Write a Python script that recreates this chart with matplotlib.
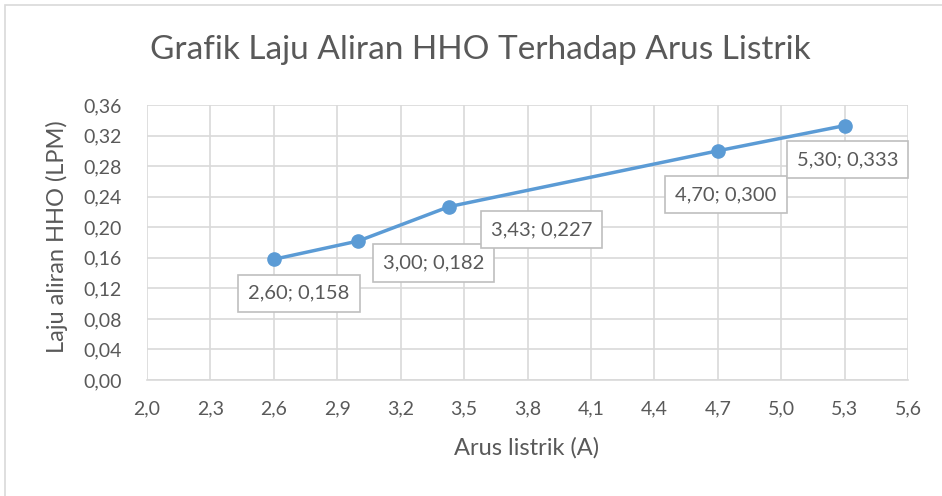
import matplotlib.pyplot as plt
from matplotlib.patches import Rectangle
from matplotlib.ticker import FuncFormatter

# data
arus = [2.60, 3.00, 3.43, 4.70, 5.30]
laju = [0.158, 0.182, 0.227, 0.300, 0.333]
x_ticks = [2.0, 2.3, 2.6, 2.9, 3.2, 3.5, 3.8, 4.1, 4.4, 4.7, 5.0, 5.3, 5.6]
y_ticks = [0.00, 0.04, 0.08, 0.12, 0.16, 0.20, 0.24, 0.28, 0.32, 0.36]
# label offsets (pixels) from each point, as Excel placed them
label_offsets = [(25, -34), (75, -22), (92, -23), (8, -44), (3, -34)]

plt.rcParams["font.family"] = ["Lato", "DejaVu Sans"]
txt = "#595959"
blue = "#5b9bd5"
grid = "#d9d9d9"

fig = plt.figure(figsize=(9.42, 4.96), dpi=100)
ax = fig.add_axes([147 / 942, 1 - 380 / 496, (908 - 147) / 942, (380 - 105) / 496])

# outer chart border
fig.patches.append(Rectangle((5 / 942, -0.01), 1.0, 1 - 5 / 496 + 0.01, transform=fig.transFigure,
                             fill=False, edgecolor="#d9d9d9", linewidth=1.2))

ax.plot(arus, laju, color=blue, linewidth=2.5, marker="o", markersize=9.5, zorder=3)

for x, y, (dx, dy) in zip(arus, laju, label_offsets):
    lab = f"{x:.2f}; {y:.3f}".replace(".", ",")
    ax.annotate(lab, (x, y), xytext=(dx, dy), textcoords="offset pixels",
                ha="center", va="center", fontsize=14.5, color=txt, zorder=4,
                bbox=dict(boxstyle="square,pad=0.5", fc="white", ec="#bfbfbf", lw=1.2))

ax.set_xlim(2.0, 5.6)
ax.set_ylim(0, 0.36)
ax.set_xticks(x_ticks)
ax.set_yticks(y_ticks)
ax.xaxis.set_major_formatter(FuncFormatter(lambda v, p: f"{v:.1f}".replace(".", ",")))
ax.yaxis.set_major_formatter(FuncFormatter(lambda v, p: f"{v:.2f}".replace(".", ",")))
ax.tick_params(length=0, labelsize=14, labelcolor=txt)
ax.tick_params(axis="y", pad=18)
ax.tick_params(axis="x", pad=15)
ax.grid(True, color=grid, linewidth=1.2)
ax.set_axisbelow(True)
for s in ["top", "right", "left"]:
    ax.spines[s].set_visible(False)
ax.spines["bottom"].set_color(grid)
ax.spines["bottom"].set_linewidth(1.2)

ax.set_xlabel("Arus listrik (A)", fontsize=17, color=txt)
ax.set_ylabel("Laju aliran HHO (LPM)", fontsize=17, color=txt)
ax.xaxis.set_label_coords((527 - 147) / 761, -(448 - 380) / 275)
ax.yaxis.set_label_coords(-(147 - 57) / 761, (380 - 237) / 275)
for lbl in (ax.xaxis.label, ax.yaxis.label):
    lbl.set_va("center")
fig.text(480 / 942, 1 - 50 / 496, "Grafik Laju Aliran HHO Terhadap Arus Listrik",
         ha="center", va="center", fontsize=24, color=txt)

plt.savefig("out.png", dpi=100)
